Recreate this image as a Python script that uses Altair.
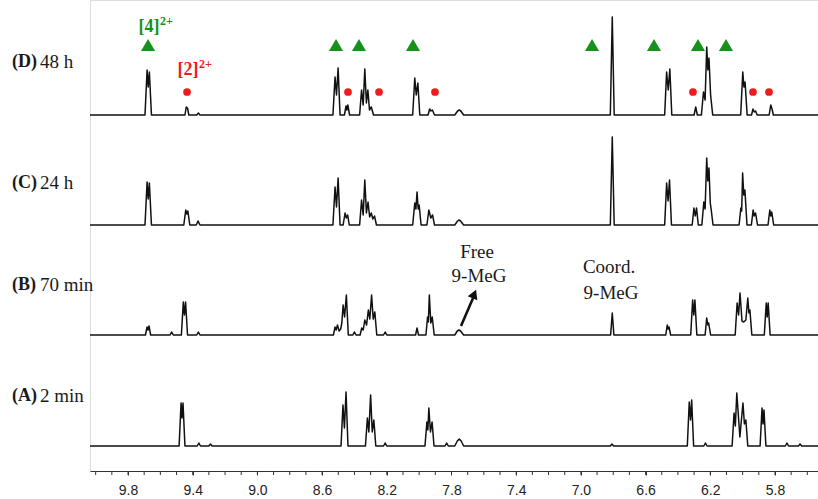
import altair as alt
import pandas as pd

# ---------------- data ----------------
PPM_MIN, PPM_MAX = 5.534, 10.035

TICK_VALUES = [10.0, 9.9, 9.8, 9.7, 9.6, 9.5, 9.4, 9.3, 9.2, 9.1, 9.0, 8.9, 8.8, 8.7,
               8.6, 8.5, 8.4, 8.3, 8.2, 8.1, 8.0, 7.9, 7.8, 7.7, 7.6, 7.5, 7.4, 7.3,
               7.2, 7.1, 7.0, 6.9, 6.8, 6.7, 6.6, 6.5, 6.4, 6.3, 6.2, 6.1, 6.0, 5.9,
               5.8, 5.7, 5.6]
LABEL_VALUES = [9.8, 9.4, 9.0, 8.6, 8.2, 7.8, 7.4, 7.0, 6.6, 6.2, 5.8]

SPECTRA_NAMES = ["D", "C", "B", "A"]
SPECTRA_LETTERS = ["(D)", "(C)", "(B)", "(A)"]
SPECTRA_TIMES = ["48 h", "24 h", "70 min", "2 min"]

# (ppm, intensity) vertices of each trace
SPEC_D = [
    (9.695, 0), (9.682, 45), (9.675, 28), (9.668, 43), (9.655, 0),
    (9.448, 0), (9.440, 8), (9.432, 7), (9.424, 0),
    (9.375, 0), (9.365, 2), (9.355, 0),
    (8.533, 0), (8.520, 38), (8.511, 20), (8.501, 47), (8.489, 0),
    (8.462, 0), (8.452, 9), (8.447, 5), (8.441, 10), (8.430, 0),
    (8.368, 0), (8.356, 25), (8.346, 10), (8.336, 46), (8.326, 12), (8.317, 25),
    (8.307, 5), (8.296, 8), (8.282, 0),
    (8.040, 0), (8.027, 37), (8.018, 20), (8.008, 32), (7.996, 0),
    (7.945, 0), (7.935, 6), (7.927, 4), (7.918, 5), (7.905, 0),
    (7.780, 0), (7.762, 4), (7.752, 5), (7.742, 4), (7.725, 0),
    (6.818, 0), (6.806, 98), (6.794, 0),
    (6.482, 0), (6.470, 43), (6.460, 25), (6.450, 46), (6.438, 0),
    (6.300, 0), (6.290, 8), (6.280, 0),
    (6.255, 0), (6.242, 23), (6.232, 15), (6.222, 68), (6.215, 45), (6.208, 57),
    (6.198, 20), (6.185, 0),
    (6.012, 0), (5.999, 43), (5.992, 28), (5.985, 33), (5.972, 0),
    (5.945, 0), (5.936, 6), (5.928, 3), (5.920, 4), (5.910, 0),
    (5.836, 0), (5.826, 10), (5.818, 6), (5.810, 0),
]
SPEC_C = [
    (9.695, 0), (9.682, 43), (9.675, 26), (9.668, 42), (9.655, 0),
    (9.455, 0), (9.443, 15), (9.436, 11), (9.430, 14), (9.418, 0),
    (9.378, 0), (9.367, 4), (9.355, 0),
    (8.533, 0), (8.520, 38), (8.511, 18), (8.501, 47), (8.489, 0),
    (8.470, 0), (8.458, 12), (8.450, 7), (8.442, 10), (8.432, 0),
    (8.368, 0), (8.356, 25), (8.346, 10), (8.336, 45), (8.326, 12), (8.316, 23),
    (8.306, 8), (8.296, 12), (8.286, 6), (8.276, 9), (8.264, 0),
    (8.040, 0), (8.027, 22), (8.020, 16), (8.013, 33), (8.006, 16), (8.000, 20), (7.988, 0),
    (7.952, 0), (7.940, 15), (7.928, 7), (7.917, 10), (7.905, 0),
    (7.780, 0), (7.762, 4), (7.754, 5), (7.744, 4), (7.725, 0),
    (6.818, 0), (6.806, 88), (6.794, 0),
    (6.482, 0), (6.470, 42), (6.461, 24), (6.452, 45), (6.440, 0),
    (6.312, 0), (6.301, 17), (6.293, 9), (6.285, 17), (6.274, 0),
    (6.252, 0), (6.240, 23), (6.232, 16), (6.222, 67), (6.215, 44), (6.208, 57),
    (6.200, 22), (6.194, 15), (6.183, 0),
    (6.022, 0), (6.011, 17), (6.006, 14), (6.000, 52), (5.993, 30), (5.986, 35), (5.973, 0),
    (5.946, 0), (5.935, 15), (5.928, 9), (5.920, 12), (5.908, 0),
    (5.843, 0), (5.832, 15), (5.826, 9), (5.820, 13), (5.808, 0),
]
SPEC_B = [
    (9.692, 0), (9.682, 8), (9.676, 5), (9.670, 9), (9.660, 0),
    (9.540, 0), (9.530, 3), (9.520, 0),
    (9.470, 0), (9.458, 33), (9.451, 20), (9.444, 33), (9.432, 0),
    (9.375, 0), (9.365, 3), (9.355, 0),
    (8.530, 0), (8.520, 8), (8.513, 5), (8.505, 10), (8.495, 4), (8.485, 6),
    (8.478, 12), (8.470, 30), (8.461, 18), (8.450, 40), (8.438, 0),
    (8.410, 0), (8.400, 3), (8.390, 0),
    (8.365, 0), (8.355, 7), (8.346, 5), (8.336, 15), (8.325, 10), (8.314, 25),
    (8.305, 16), (8.294, 40), (8.284, 16), (8.274, 23), (8.262, 0),
    (8.220, 0), (8.210, 3), (8.200, 0),
    (8.022, 0), (8.013, 7), (8.004, 0),
    (7.958, 0), (7.948, 18), (7.943, 13), (7.937, 40), (7.928, 12), (7.919, 18), (7.907, 0),
    (7.780, 0), (7.764, 4), (7.754, 5), (7.744, 4), (7.725, 0),
    (6.816, 0), (6.806, 22), (6.796, 0),
    (6.475, 0), (6.466, 10), (6.460, 6), (6.455, 8), (6.445, 0),
    (6.321, 0), (6.309, 35), (6.302, 20), (6.295, 35), (6.283, 0),
    (6.232, 0), (6.222, 17), (6.215, 10), (6.210, 12), (6.198, 0),
    (6.046, 0), (6.034, 32), (6.025, 20), (6.016, 42), (6.004, 14), (5.993, 13),
    (5.980, 15), (5.968, 37), (5.961, 22), (5.955, 25), (5.943, 0),
    (5.866, 0), (5.854, 32), (5.848, 18), (5.842, 32), (5.830, 0),
]
SPEC_A = [
    (9.484, 0), (9.472, 43), (9.466, 28), (9.460, 43), (9.448, 0),
    (9.372, 0), (9.362, 3), (9.352, 0),
    (9.300, 0), (9.290, 2), (9.280, 0),
    (8.483, 0), (8.471, 41), (8.462, 18), (8.452, 54), (8.440, 0),
    (8.332, 0), (8.320, 28), (8.311, 14), (8.300, 51), (8.290, 14), (8.280, 26), (8.268, 0),
    (8.220, 0), (8.210, 3), (8.200, 0),
    (7.964, 0), (7.952, 24), (7.946, 16), (7.940, 38), (7.930, 14), (7.920, 24), (7.908, 0),
    (7.840, 0), (7.830, 3), (7.820, 0),
    (7.780, 0), (7.764, 5), (7.752, 7), (7.740, 5), (7.725, 0),
    (6.818, 0), (6.808, 2), (6.798, 0),
    (6.342, 0), (6.330, 44), (6.322, 26), (6.315, 46), (6.303, 0),
    (6.240, 0), (6.230, 3), (6.220, 0),
    (6.065, 0), (6.053, 33), (6.045, 20), (6.036, 53), (6.017, 9), (5.998, 43),
    (5.989, 22), (5.980, 26), (5.968, 0),
    (5.892, 0), (5.880, 38), (5.874, 22), (5.868, 36), (5.856, 0),
    (5.736, 0), (5.726, 3), (5.716, 0),
    (5.655, 0), (5.645, 2), (5.635, 0),
]

# peak assignments in spectrum D
COMPLEX4_PPM = [9.676, 8.514, 8.372, 8.038, 6.931, 6.548, 6.276, 6.103]
COMPLEX2_PPM = [9.435, 8.440, 8.248, 7.902, 6.307, 5.936, 5.837]

# ---------------- layout (positions / styles) ----------------
W, H = 728, 471
PAD_LEFT, PAD_BOTTOM = 90, 28
OFFSETS = {"D": 356, "C": 246, "B": 136, "A": 25}
LABEL_RISE = {"D": 53, "C": 42, "B": 50, "A": 50}
PX_PER_PPM = W / (PPM_MAX - PPM_MIN)


def ppm_at(px):
    """ppm value at an absolute pixel column of the picture (for annotations)."""
    return PPM_MAX - (px - PAD_LEFT) / PX_PER_PPM


def yv_at(py):
    return H - py


GREEN = "#17911b"
RED = "#ee1d1d"
SERIF = "Liberation Serif"
INK = "#1a1a1a"

spectra = {"D": SPEC_D, "C": SPEC_C, "B": SPEC_B, "A": SPEC_A}
rows = []
for name in SPECTRA_NAMES:
    pts = [(PPM_MAX, 0)] + list(spectra[name]) + [(PPM_MIN, 0)]
    for i, (p, v) in enumerate(pts):
        rows.append({"spec": name, "i": i, "ppm": p, "y": v + OFFSETS[name]})
lines_df = pd.DataFrame(rows)

xs = alt.Scale(domain=[PPM_MIN, PPM_MAX], reverse=True, nice=False, zero=False)
ys = alt.Scale(domain=[0, H], nice=False, zero=False)

x_axis = alt.Axis(values=LABEL_VALUES, format=".1f", title=None, grid=False,
                  tickSize=4, tickColor="#333", domainColor="#333", domainWidth=1,
                  labelFont="Liberation Sans", labelFontSize=14, labelColor="#222",
                  labelPadding=8, labelOverlap=False, labelFlush=False)

spectra_layer = alt.Chart(lines_df).mark_line(
    color="#111", strokeWidth=1.5, strokeJoin="round"
).encode(
    x=alt.X("ppm:Q", scale=xs, axis=x_axis),
    y=alt.Y("y:Q", scale=ys, axis=None),
    detail="spec:N",
    order="i:Q",
)

# minor ticks every 0.1 ppm
minor_df = pd.DataFrame({"ppm": TICK_VALUES})
minor_ticks = alt.Chart(minor_df).mark_rule(color="#333", strokeWidth=1).encode(
    x="ppm:Q", y=alt.value(H), y2=alt.value(H + 4))

tri_df = pd.DataFrame({"ppm": COMPLEX4_PPM, "y": yv_at(45)})
tri_layer = alt.Chart(tri_df).mark_point(
    shape="triangle-up", filled=True, size=200, color=GREEN, opacity=1
).encode(x="ppm:Q", y="y:Q")

dot_df = pd.DataFrame({"ppm": COMPLEX2_PPM, "y": yv_at(92)})
dot_layer = alt.Chart(dot_df).mark_point(
    shape="circle", filled=True, size=60, color=RED, opacity=1
).encode(x="ppm:Q", y="y:Q")

# left-hand spectrum labels
lab_rows_bold, lab_rows_norm = [], []
for name, letter, t in zip(SPECTRA_NAMES, SPECTRA_LETTERS, SPECTRA_TIMES):
    yv = OFFSETS[name] + LABEL_RISE[name]
    lab_rows_bold.append({"ppm": ppm_at(12), "y": yv, "t": letter})
    lab_rows_norm.append({"ppm": ppm_at(40), "y": yv, "t": t})


def text_layer(rows_, **kw):
    return alt.Chart(pd.DataFrame(rows_)).mark_text(**kw).encode(
        x="ppm:Q", y="y:Q", text="t:N")


bold_lab = text_layer(lab_rows_bold, font=SERIF, fontSize=18, fontWeight="bold",
                      align="left", baseline="middle", color=INK)
norm_lab = text_layer(lab_rows_norm, font=SERIF, fontSize=19,
                      align="left", baseline="middle", color=INK)

c4_main = text_layer([{"ppm": ppm_at(149), "y": yv_at(27), "t": "[4]"}],
                     font=SERIF, fontSize=18, fontWeight="bold", align="center",
                     baseline="middle", color=GREEN)
c4_sup = text_layer([{"ppm": ppm_at(160), "y": yv_at(21), "t": "2+"}],
                    font=SERIF, fontSize=12, fontWeight="bold", align="left",
                    baseline="middle", color=GREEN)
c2_main = text_layer([{"ppm": ppm_at(188), "y": yv_at(70), "t": "[2]"}],
                     font=SERIF, fontSize=18, fontWeight="bold", align="center",
                     baseline="middle", color=RED)
c2_sup = text_layer([{"ppm": ppm_at(199), "y": yv_at(64), "t": "2+"}],
                    font=SERIF, fontSize=12, fontWeight="bold", align="left",
                    baseline="middle", color=RED)

annot = text_layer([
    {"ppm": ppm_at(477), "y": yv_at(252), "t": "Free"},
    {"ppm": ppm_at(479), "y": yv_at(276), "t": "9-MeG"},
    {"ppm": ppm_at(609), "y": yv_at(267), "t": "Coord."},
    {"ppm": ppm_at(611), "y": yv_at(293), "t": "9-MeG"},
], font=SERIF, fontSize=19, align="center", baseline="middle", color=INK)

arrow_df = pd.DataFrame({"ppm": [ppm_at(461), ppm_at(473.5)],
                         "y": [yv_at(326), yv_at(297)], "i": [0, 1]})
arrow_line = alt.Chart(arrow_df).mark_line(color="#111", strokeWidth=2.6).encode(
    x="ppm:Q", y="y:Q", order="i:Q")
head_df = pd.DataFrame({"ppm": [ppm_at(474.3)], "y": [yv_at(294)]})
arrow_head = alt.Chart(head_df).mark_point(
    shape="triangle-up", filled=True, size=110, color="#111", opacity=1, angle=23
).encode(x="ppm:Q", y="y:Q")

chart = alt.layer(
    spectra_layer, minor_ticks, tri_layer, dot_layer, bold_lab, norm_lab,
    c4_main, c4_sup, c2_main, c2_sup, annot, arrow_line, arrow_head,
).properties(
    width=W, height=H,
    autosize=alt.AutoSizeParams(type="none"),
    padding={"left": PAD_LEFT, "top": 0, "right": 0, "bottom": PAD_BOTTOM},
).configure_view(stroke=None).configure(background="white")

chart.save("out.html", embed_options={"renderer": "svg", "actions": False})
